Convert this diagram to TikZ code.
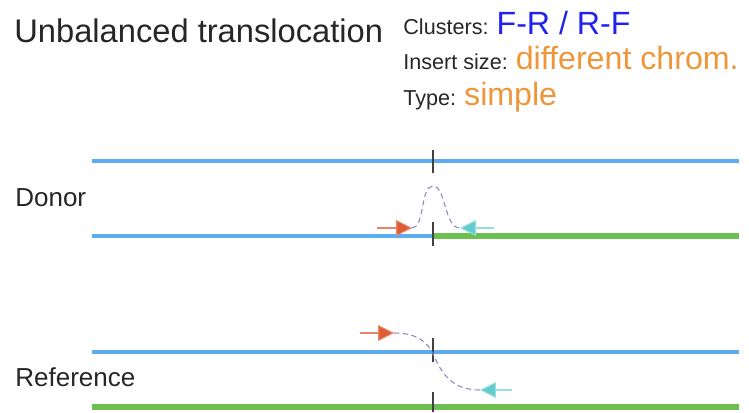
\documentclass[tikz,border=0pt]{standalone}
\usepackage{fontspec}
\setmainfont{Liberation Sans}
\usetikzlibrary{arrows.meta}
\definecolor{chromblue}{RGB}{92,172,242}
\definecolor{chromgreen}{RGB}{108,192,82}
\definecolor{readred}{RGB}{222,92,52}
\definecolor{readcyan}{RGB}{98,204,204}
\definecolor{linkpurple}{RGB}{120,100,180}
\definecolor{valblue}{RGB}{34,34,238}
\definecolor{valorange}{RGB}{238,150,58}
\tikzset{
  label/.style={inner sep=0pt, anchor=base west, text=black!85},
  bluechrom/.style={line width=2.2pt, draw=chromblue},
  greenchrom/.style={line width=3pt, draw=chromgreen},
  breakmark/.style={line width=0.6pt, draw=black!75},
  fwdread/.style={line width=0.6pt, draw=readred!75, -{Triangle[length=9pt, width=9pt, fill=readred]}},
  revread/.style={line width=0.6pt, draw=readcyan!65, -{Triangle[length=9pt, width=9pt, fill=readcyan]}},
  link/.style={line width=0.6pt, draw=linkpurple!80, densely dashed},
}
\newcommand{\lblfont}{\fontsize{12.3}{14}\selectfont}
\newcommand{\valfont}{\fontsize{18.3}{20}\selectfont}

\begin{document}
\begin{tikzpicture}[x=0.02cm, y=-0.02cm]
\useasboundingbox (0,0) rectangle (749,412);
% texts
\node[label, font=\fontsize{18.6}{21}\selectfont] (title) at (14,43) {Unbalanced translocation};
\node[label] (clusters) at (403,35) {\lblfont Clusters: {\valfont\color{valblue}F-R / R-F}};
\node[label] (insert) at (403,70) {\lblfont Insert size: {\valfont\color{valorange}different chrom.}};
\node[label] (type) at (403,105) {\lblfont Type: {\valfont\color{valorange}simple}};
\node[label, font=\fontsize{14.8}{17}\selectfont] (donor) at (15,206) {Donor};
\node[label, font=\fontsize{14.8}{17}\selectfont] (reference) at (15,386) {Reference};
% donor
\coordinate (dtopL) at (92,161);
\coordinate (dtopR) at (739,161);
\coordinate (dlowL) at (92,236);
\coordinate (dbrk) at (433,236);
\coordinate (dlowR) at (739,236);
\draw[bluechrom] (dtopL) -- (dtopR);
\draw[bluechrom] (dlowL) -- (dbrk);
\draw[greenchrom] (dbrk) -- (dlowR);
\draw[breakmark] (433,150) -- (433,173);
\draw[breakmark] (433,222) -- (433,246);
\coordinate (dfwd0) at (377,228);
\coordinate (dfwd) at (412,228);
\coordinate (drev0) at (494,228);
\coordinate (drev) at (460,228);
\coordinate (dpeak) at (433,186);
\draw[link] (dfwd) .. controls (425,228) and (420,186) .. (dpeak)
  .. controls (446,186) and (444,228) .. (drev);
\draw[fwdread] (dfwd0) -- (dfwd);
\draw[revread] (drev0) -- (drev);
% reference
\coordinate (rblueL) at (92,352);
\coordinate (rblueR) at (739,352);
\coordinate (rgreenL) at (92,407);
\coordinate (rgreenR) at (739,407);
\draw[bluechrom] (rblueL) -- (rblueR);
\draw[greenchrom] (rgreenL) -- (rgreenR);
\draw[breakmark] (433,338) -- (433,362);
\draw[breakmark] (433,392) -- (433,412);
\coordinate (rfwd0) at (360,333);
\coordinate (rfwd) at (394,333);
\coordinate (rrev0) at (512,390);
\coordinate (rrev) at (480,390);
\coordinate (rmid) at (433,354);
\draw[link] (rfwd) .. controls (418,333) and (428,343) .. (rmid)
  .. controls (442,374) and (452,390) .. (rrev);
\draw[fwdread] (rfwd0) -- (rfwd);
\draw[revread] (rrev0) -- (rrev);
\end{tikzpicture}
\end{document}
